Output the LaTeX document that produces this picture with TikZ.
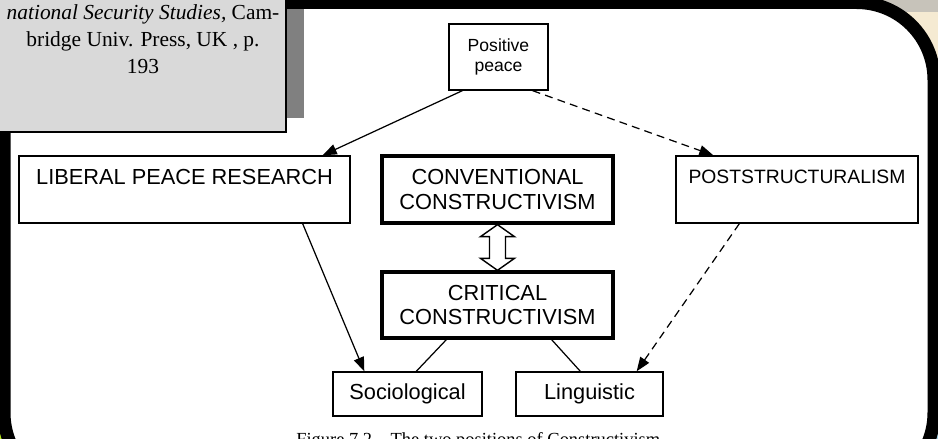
\documentclass[tikz,border=0pt]{standalone}
\usepackage{fontspec}
\setmainfont{Liberation Serif}
\newfontfamily\arialfont{Liberation Sans}
\usetikzlibrary{arrows.meta, calc}

\definecolor{notegrey}{HTML}{D9D9D9}
\definecolor{shadowgrey}{HTML}{808080}
\definecolor{mapbeige}{HTML}{F5EAD2}
\definecolor{mapgrey}{HTML}{C7C3BA}
\definecolor{mapgreen}{HTML}{B4E61E}
\definecolor{mapblue}{HTML}{A9D6E8}

\begin{document}
\begin{tikzpicture}[x=0.02cm, y=-0.02cm,
  box/.style={draw, line width=0.8pt, inner sep=0pt, align=center, font=\arialfont\fontsize{12.4}{14.2}\selectfont},
  thickbox/.style={box, line width=1.9pt},
  link/.style={line width=0.7pt},
  tip/.style={-{Triangle[length=8pt, width=6pt]}},
  dashlink/.style={link, dash pattern=on 4.5pt off 3pt}]
\useasboundingbox (0,0) rectangle (938,439);
\clip (0,0) rectangle (938,439);
\fill[white] (0,0) rectangle (938,439);

% screen behind the slide
\fill[mapgrey] (850,0) rectangle (938,12);
\fill[mapbeige] (850,12) rectangle (938,100);
\fill[mapgreen] (0,400) rectangle (40,439);
\fill[mapblue] (900,400) rectangle (938,439);
\filldraw[fill=white, draw=black, line width=7.4pt, rounded corners=44pt] (4,2.5) rectangle (934,490);

% source note
\fill[shadowgrey] (-20,9) rectangle (304,118);
\filldraw[fill=notegrey, draw=black, line width=1.2pt] (-20,-20) rectangle (286,132);
\node[font=\fontsize{12.2}{15.2}\selectfont, align=center, inner sep=0pt] (srcnote) at (143,39) {\textit{national Security Studies,} Cam-\\bridge Univ. Press, UK , p.\\193};

\node[box, minimum width=1.98cm, minimum height=1.32cm, font=\arialfont\fontsize{10}{11.3}\selectfont] (pos) at (498.5,57) {Positive\\peace};
\node[box, minimum width=6.62cm, minimum height=1.34cm] (lib) at (184.5,189.5) {LIBERAL PEACE RESEARCH\\\phantom{X}};
\node[thickbox, minimum width=4.62cm, minimum height=1.34cm] (conv) at (497.5,189.5) {CONVENTIONAL\\CONSTRUCTIVISM};
\node[box, minimum width=4.84cm, minimum height=1.34cm, font=\arialfont\fontsize{11}{14.2}\selectfont] (post) at (797,189.5) {POSTSTRUCTURALISM\\\phantom{X}};
\node[thickbox, minimum width=4.62cm, minimum height=1.32cm] (crit) at (497.5,305) {CRITICAL\\CONSTRUCTIVISM};
\node[box, minimum width=2.98cm, minimum height=0.88cm] (soc) at (407.5,394) {Sociological};
\node[box, minimum width=2.94cm, minimum height=0.88cm] (ling) at (589.5,394) {Linguistic};

\draw[link, tip] ($(pos.south west)+(14,0)$) -- ($(lib.north east)+(-28,0)$);
\draw[dashlink, tip] ($(pos.south east)+(-16,0)$) -- ($(post.north west)+(38,0)$);
\draw[link, tip] ($(lib.south east)+(-48,0)$) -- ($(soc.north west)+(32,0)$);
\draw[dashlink, tip] ($(post.south west)+(64,0)$) -- ($(ling.north east)+(-27,0)$);
\draw[link] ($(crit.south west)+(66,0)$) -- ($(soc.north west)+(84,0)$);
\draw[link] ($(crit.south east)+(-63,0)$) -- ($(ling.north west)+(65,0)$);

% hollow double arrow
\draw[line width=0.8pt, fill=white] (conv.south) -- ++(17,12) -- ++(-9,0) -- ($(crit.north)+(8,-12)$) -- ++(9,0) -- (crit.north) -- ++(-17,-12) -- ++(9,0) -- ($(conv.south)+(-8,12)$) -- ++(-9,0) -- cycle;

\node[anchor=base west, inner sep=0pt, font=\fontsize{10.5}{12}\selectfont] (caption) at (296,445) {Figure 7.2\quad The two positions of Constructivism};
\end{tikzpicture}
\end{document}
